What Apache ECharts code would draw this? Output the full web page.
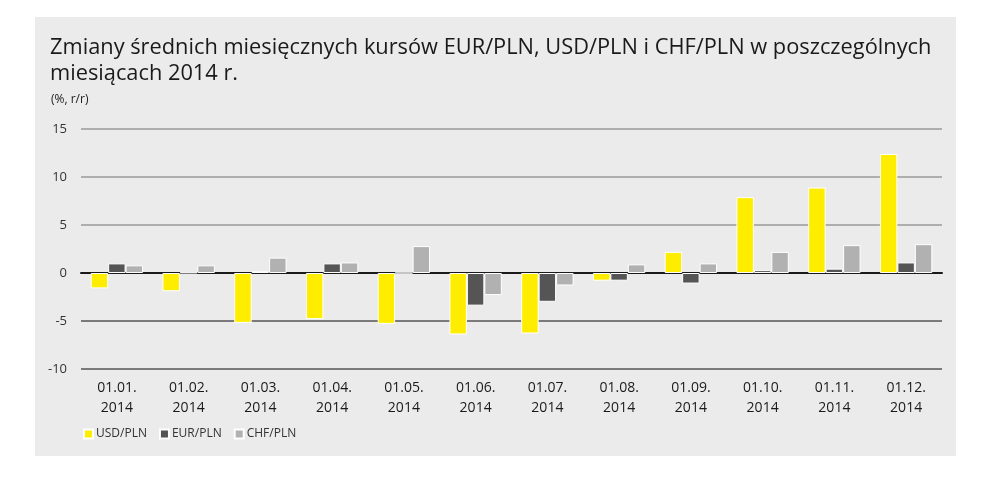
<!DOCTYPE html>
<html>
<head>
<meta charset="utf-8">
<script src="https://cdn.jsdelivr.net/npm/echarts@6/dist/echarts.min.js"></script>
<style>
html,body{margin:0;padding:0;background:#fff;}
#c{width:992px;height:477px;}
</style>
</head>
<body>
<div id="c"></div>
<script>
var categories = ['01.01.\n2014','01.02.\n2014','01.03.\n2014','01.04.\n2014','01.05.\n2014','01.06.\n2014','01.07.\n2014','01.08.\n2014','01.09.\n2014','01.10.\n2014','01.11.\n2014','01.12.\n2014'];
var usdPln = [-1.6, -1.9, -5.2, -4.8, -5.3, -6.4, -6.3, -0.8, 2.2, 7.9, 8.9, 12.4];
var eurPln = [1.0, 0.05, 0.2, 1.0, 0.0, -3.4, -3.0, -0.8, -1.1, 0.3, 0.45, 1.1];
var chfPln = [0.8, 0.8, 1.6, 1.1, 2.8, -2.3, -1.3, 0.9, 1.0, 2.2, 2.9, 3.0];
var seriesNames = ['USD/PLN', 'EUR/PLN', 'CHF/PLN'];
var titleText = 'Zmiany średnich miesięcznych kursów EUR/PLN, USD/PLN i CHF/PLN w poszczególnych\nmiesiącach 2014 r.';
var unitText = '(%, r/r)';

var FONT = '"Open Sans", "DejaVu Sans", sans-serif';
var chart = echarts.init(document.getElementById('c'), null, {renderer: 'canvas'});
function bar(name, data, color) {
  return {
    name: name, type: 'bar', data: data,
    barGap: '0%', barCategoryGap: '27%',
    itemStyle: {color: color, borderColor: '#ffffff', borderWidth: 1},
    emphasis: {disabled: true}
  };
}
chart.setOption({
  animation: false,
  backgroundColor: '#ffffff',
  graphic: [{
    type: 'rect', z: -10, silent: true,
    shape: {x: 35, y: 17, width: 921, height: 439},
    style: {fill: '#ebebeb'}
  }],
  title: [{
    text: titleText, left: 45, top: 30,
    textStyle: {fontFamily: FONT, fontSize: 21.8, fontWeight: 'normal', color: '#1a1a1a', lineHeight: 26}
  }, {
    text: unitText, left: 46, top: 89,
    textStyle: {fontFamily: FONT, fontSize: 12, fontWeight: 'normal', color: '#1a1a1a'}
  }],
  legend: {
    left: 78, top: 423, itemWidth: 9, itemHeight: 9, itemGap: 12, icon: 'rect',
    textStyle: {fontFamily: FONT, fontSize: 12, color: '#333333', padding: [0,0,0,-2]},
    data: seriesNames
  },
  grid: {left: 81, right: 50, top: 129, bottom: 108},
  xAxis: {
    type: 'category', data: categories,
    axisTick: {show: false},
    axisLine: {onZero: true, lineStyle: {color: '#1a1a1a', width: 2}},
    axisLabel: {fontFamily: FONT, fontSize: 14, color: '#1a1a1a', lineHeight: 20, margin: 9, interval: 0}
  },
  yAxis: {
    type: 'value', min: -10, max: 15, interval: 5,
    axisLine: {show: false}, axisTick: {show: false},
    axisLabel: {fontFamily: FONT, fontSize: 13, color: '#333333', margin: 14},
    splitLine: {lineStyle: {color: ['#555555','#555555','#555555','#9a9a9a','#9a9a9a','#9a9a9a'], width: 1.5}}
  },
  series: [
    bar(seriesNames[0], usdPln, '#ffed00'),
    bar(seriesNames[1], eurPln, '#555555'),
    bar(seriesNames[2], chfPln, '#b1b1b1')
  ]
});
</script>
</body>
</html>
